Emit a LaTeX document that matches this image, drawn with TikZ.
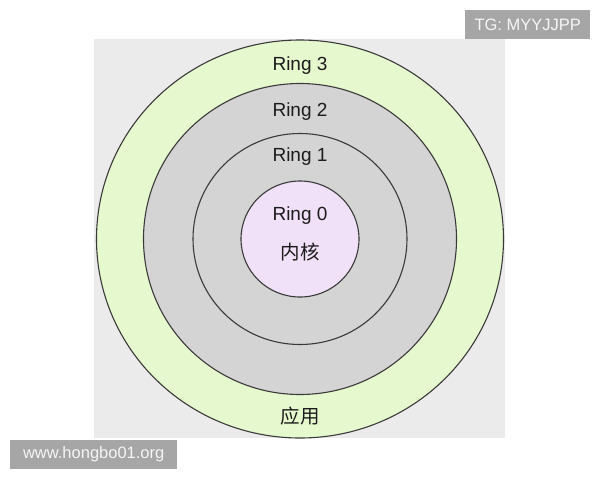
\documentclass[tikz,border=0pt]{standalone}
\usepackage{fontspec}
\setmainfont{Liberation Sans}
\newfontfamily\cjk{Noto Sans CJK SC}
\usetikzlibrary{shapes.geometric}
\definecolor{bgpanel}{HTML}{EBEBEB}
\definecolor{ringgreen}{HTML}{E6F8CD}
\definecolor{ringgray}{HTML}{D4D4D4}
\definecolor{ringpink}{HTML}{F1E1F8}
\definecolor{ringline}{HTML}{3A3A3A}
\definecolor{tagbox}{HTML}{A6A6A6}
\definecolor{txt}{HTML}{1C1C1C}
\tikzset{
  ring/.style={ellipse, draw=ringline, line width=1.1pt, inner sep=0pt, outer sep=0pt},
  ringlabel/.style={anchor=base, text=txt, font=\fontsize{19}{19}\selectfont, inner sep=0pt},
  cjklabel/.style={text=txt, font=\cjk\fontsize{19.5}{19.5}\selectfont, inner sep=0pt},
  tag/.style={fill=tagbox, text=white!96!black, font=\fontsize{16.5}{16.5}\selectfont, inner sep=0pt, anchor=north west}
}
\begin{document}
\begin{tikzpicture}[x=1pt,y=-1pt]
\useasboundingbox (0,0) rectangle (600,480);
\fill[white] (0,0) rectangle (600,480);
\fill[bgpanel] (94,39) rectangle (505,438);
\node[ring, fill=ringgreen, minimum width=407pt, minimum height=398pt] (r3) at (300,239) {};
\node[ring, fill=ringgray, minimum width=313pt, minimum height=311pt] (r2) at (300,239) {};
\node[ring, fill=ringgray, minimum width=214pt, minimum height=211pt] (r1) at (300,239) {};
\node[ring, fill=ringpink, minimum width=118pt, minimum height=116pt] (r0) at (300,239) {};
\node[ringlabel] (l3) at (300,70.5) {Ring 3};
\node[ringlabel] (l2) at (300,116) {Ring 2};
\node[ringlabel] (l1) at (300,161.5) {Ring 1};
\node[ringlabel] (l0) at (300,220) {Ring 0};
\node[cjklabel] (kern) at (300,252.5) {内核};
\node[cjklabel] (app) at (300,416.5) {应用};
\node[tag, minimum width=125pt, minimum height=29pt] (tg) at (465,10) {TG: MYYJJPP};
\node[tag, minimum width=167pt, minimum height=29pt] (www) at (10,440) {www.hongbo01.org};
\end{tikzpicture}
\end{document}
